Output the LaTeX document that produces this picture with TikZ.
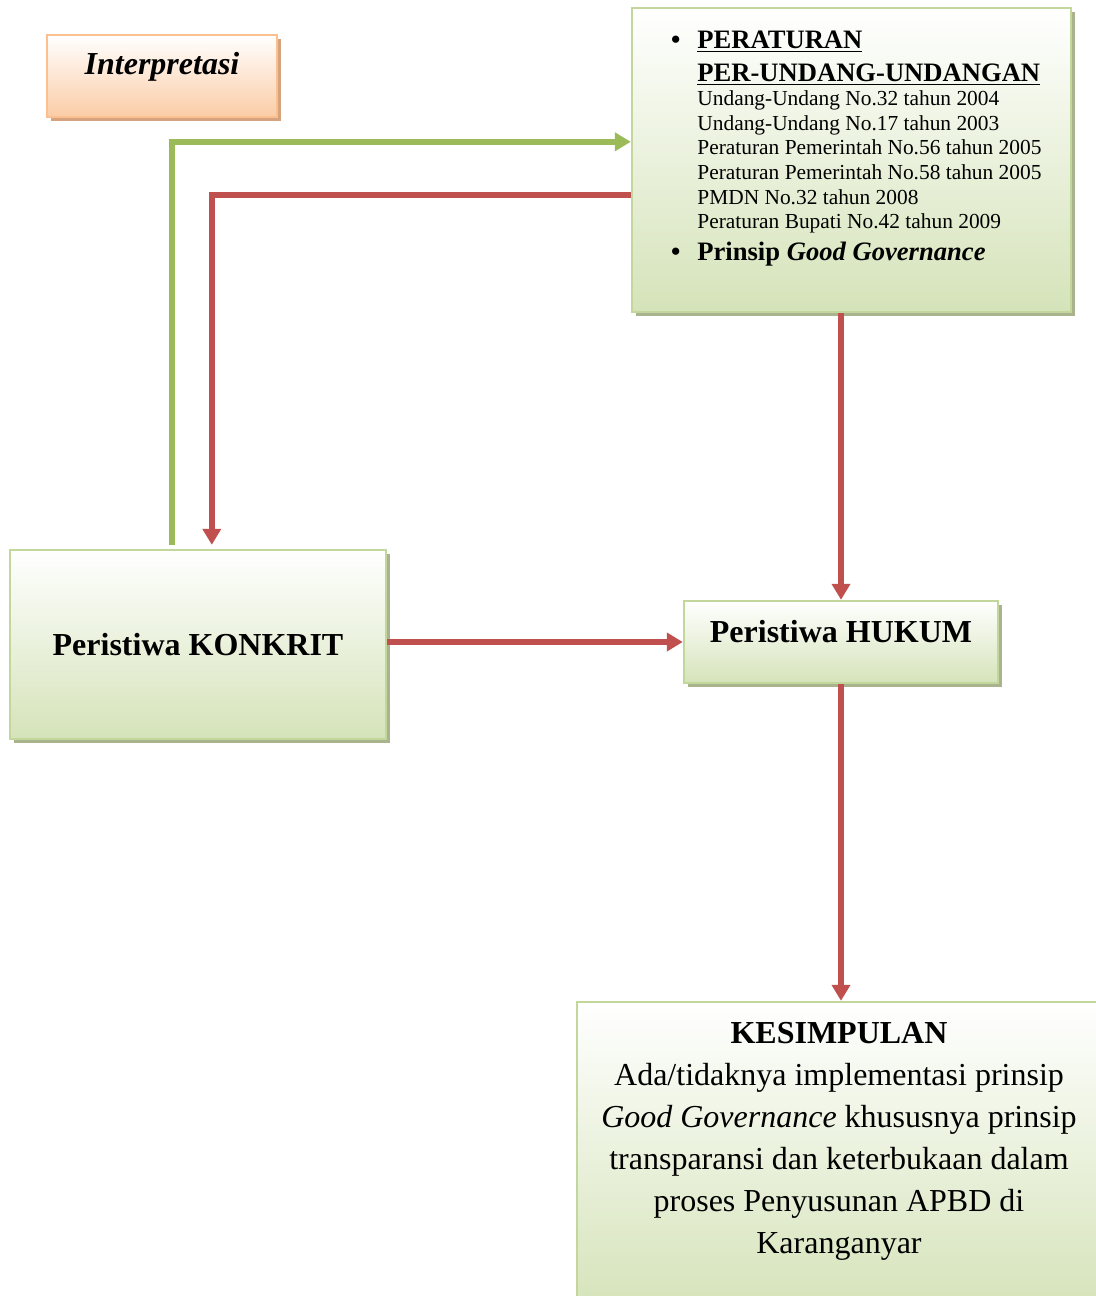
\documentclass[tikz,border=0pt]{standalone}
\usepackage{fontspec}
\setmainfont{Liberation Serif}
\usetikzlibrary{arrows.meta,shadows}
\definecolor{garishijau}{HTML}{C3D69B}
\definecolor{dasarhijau}{HTML}{D5E3B9}
\definecolor{bayanghijau}{HTML}{A9B48F}
\definecolor{garisjingga}{HTML}{FAC090}
\definecolor{dasarjingga}{HTML}{FBCCA6}
\definecolor{bayangjingga}{HTML}{D5A47F}
\definecolor{merahpanah}{HTML}{C0504D}
\definecolor{hijaupanah}{HTML}{9BBB59}
\newcommand{\butir}{\leavevmode\llap{\textbullet\hspace{8.5pt}}}
\begin{document}
\begin{tikzpicture}[x=0.5pt,y=-0.5pt,
    kotakhijau/.style={draw=garishijau,line width=1.2pt,top color=white,bottom color=dasarhijau,inner sep=0pt,
      drop shadow={shadow xshift=2pt,shadow yshift=-2pt,fill=bayanghijau,opacity=1}},
    kotakjingga/.style={draw=garisjingga,line width=1.2pt,top color=white,bottom color=dasarjingga,inner sep=0pt,
      drop shadow={shadow xshift=2pt,shadow yshift=-2pt,fill=bayangjingga,opacity=1}},
    judul/.style={font=\fontsize{16}{19}\selectfont\bfseries},
    merah/.style={draw=merahpanah,line width=3pt,-{Triangle[length=8pt,width=9pt]}},
    hijau/.style={draw=hijaupanah,line width=3pt,-{Triangle[length=8pt,width=9pt]}}]
    \useasboundingbox (0,0) rectangle (1096,1296);
    \node[kotakjingga,font=\fontsize{16}{19}\selectfont\bfseries\itshape,minimum width=115pt,minimum height=41pt,
      text height=11pt,text depth=12.4pt] (interpretasi) at (162,76) {Interpretasi};
    \node[kotakhijau,minimum width=219.5pt,minimum height=152pt] (aturan) at (851.5,160) {};
    \node[anchor=base west,inner sep=0pt] (daftar) at (697,48) {\parbox[t]{200pt}{%
      {\fontsize{13.3}{16.5}\selectfont\bfseries\butir\underline{PERATURAN}\par
       \underline{PER-UNDANG-UNDANGAN}\par}
      {\fontsize{10.7}{12.3}\selectfont
       Undang-Undang No.32 tahun 2004\par
       Undang-Undang No.17 tahun 2003\par
       Peraturan Pemerintah No.56 tahun 2005\par
       Peraturan Pemerintah No.58 tahun 2005\par
       PMDN No.32 tahun 2008\par
       Peraturan Bupati No.42 tahun 2009\par}
      {\fontsize{13.3}{16}\selectfont\bfseries\butir Prinsip \textit{Good Governance}\par}}};
    \node[kotakhijau,judul,minimum width=188pt,minimum height=94.5pt] (konkrit) at (198,644.5) {Peristiwa KONKRIT};
    \node[kotakhijau,judul,minimum width=157pt,minimum height=41pt,text height=12pt,text depth=11.4pt]
      (hukum) at (841,642) {Peristiwa HUKUM};
    \node[kotakhijau,minimum width=262pt,minimum height=155pt] (simpulan) at (839,1157) {};
    \node[anchor=base,inner sep=0pt] (simpulanteks) at (839,1043) {\parbox[t]{260pt}{\centering
      \fontsize{16}{21}\selectfont\textbf{KESIMPULAN}\\
      Ada/tidaknya implementasi prinsip\\
      \textit{Good Governance} khususnya prinsip\\
      transparansi dan keterbukaan dalam\\
      proses Penyusunan APBD di\\
      Karanganyar}};
    \draw[hijau] ([xshift=81.5pt,yshift=2pt]konkrit.north west) |- ([yshift=-67.5pt]aturan.north west);
    \draw[merah] ([yshift=-94pt]aturan.north west) -| ([xshift=101.5pt,yshift=2pt]konkrit.north west);
    \draw[merah] (aturan.south -| hukum.north) -- (hukum.north);
    \draw[merah] (konkrit.east |- hukum.west) -- (hukum.west);
    \draw[merah] (hukum.south) -- (hukum.south |- simpulan.north);
\end{tikzpicture}
\end{document}
